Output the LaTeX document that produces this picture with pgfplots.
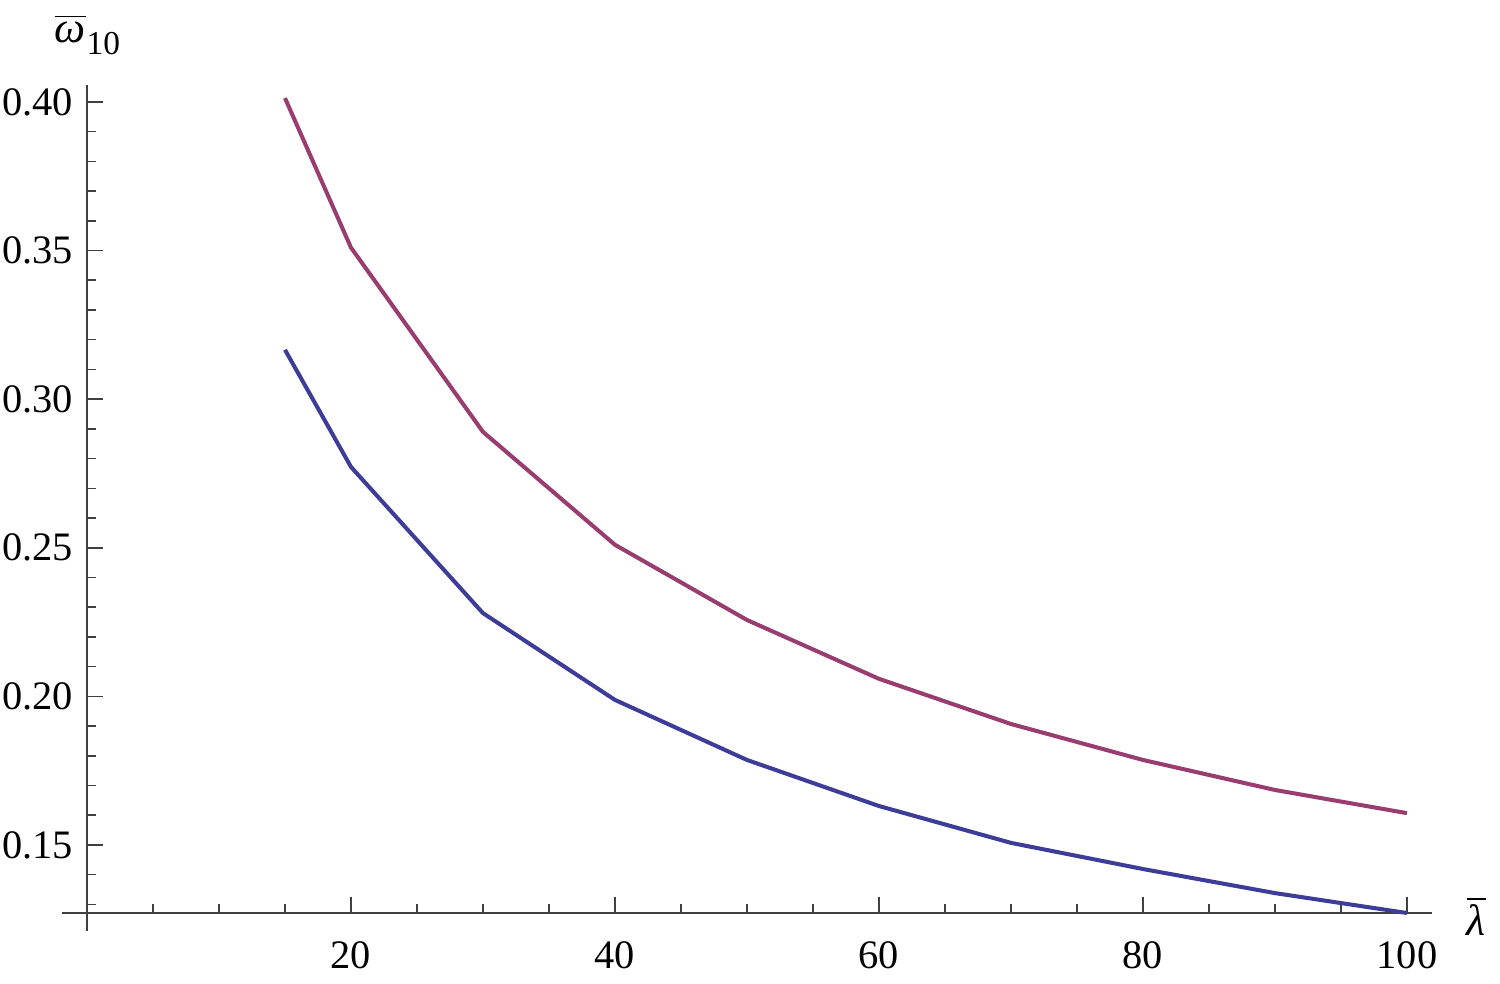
\documentclass[border=0pt]{standalone}
\usepackage{pgfplots}
\pgfplotsset{compat=1.18}
\usepackage{fontspec}
\setmainfont{Liberation Serif}

\definecolor{mblue}{rgb}{0.24,0.24,0.6}
\definecolor{mred}{rgb}{0.6,0.24,0.442}

\begin{document}
\fontsize{11.5}{13}\selectfont
\begin{tikzpicture}
\begin{axis}[
  scale only axis,
  width=13.45cm, height=8.28cm,
  axis lines*=left,
  xmin=0, xmax=101.9,
  ymin=0.1271, ymax=0.4057,
  clip=false,
  axis line style={black!75, line width=0.45pt},
  tick style={black!75, line width=0.45pt},
  tick align=inside,
  major tick length=0.16cm,
  minor tick length=0.09cm,
  xtick={20,40,60,80,100},
  minor xtick={5,10,15,25,30,35,45,50,55,65,70,75,85,90,95},
  ytick={0.15,0.20,0.25,0.30,0.35,0.40},
  minor ytick={0.13,0.14,0.16,0.17,0.18,0.19,0.21,0.22,0.23,0.24,0.26,0.27,0.28,0.29,0.31,0.32,0.33,0.34,0.36,0.37,0.38,0.39},
  /pgf/number format/assume math mode=true,
  yticklabel style={/pgf/number format/.cd, fixed, fixed zerofill, precision=2},
  xticklabel style={yshift=-0.14cm},
  tick label style={font=\fontsize{11.5}{13}\selectfont},
]
% upper curve
\addplot[mred, line width=1.15pt] coordinates {
  (15,0.4013)(20,0.3510)(30,0.2890)(40,0.2510)(50,0.2257)(60,0.2059)
  (70,0.1907)(80,0.1786)(90,0.1685)(100,0.1607)
};
% lower curve
\addplot[mblue, line width=1.15pt] coordinates {
  (15,0.3166)(20,0.2772)(30,0.2280)(40,0.1988)(50,0.1786)(60,0.1631)
  (70,0.1507)(80,0.1419)(90,0.1338)(100,0.1271)
};
% axis extensions past the crossing point
\draw[black!75, line width=0.45pt] (axis cs:-1.9,0.1271) -- (axis cs:0,0.1271);
\draw[black!75, line width=0.45pt] (axis cs:0,0.1271) -- (axis cs:0,0.1212);
\end{axis}
\node[anchor=base west, inner sep=0pt] at (-0.33,8.71)
  {\fontsize{12.5}{14}\selectfont$\overline{\mbox{\itshape ω}}$\kern0.02em\raisebox{-0.28em}{\fontsize{9.5}{11}\selectfont 10}};
\node[anchor=base west, inner sep=0pt] at (13.79,-0.22) {\fontsize{12.5}{14}\selectfont$\overline{\mbox{\itshape λ}}$};
\pgfresetboundingbox
\path (-0.87,-0.70) rectangle (14.13,9.13);
\end{tikzpicture}
\end{document}
